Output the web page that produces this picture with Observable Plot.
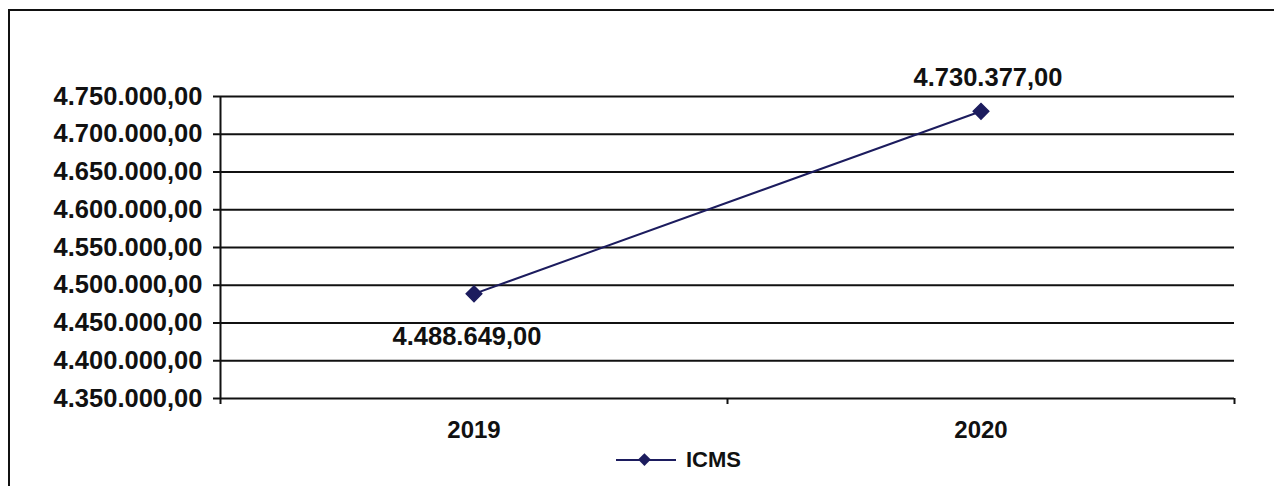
<!DOCTYPE html>
<html>
<head>
<meta charset="utf-8">
<script src="https://cdn.jsdelivr.net/npm/d3@7"></script>
<script src="https://cdn.jsdelivr.net/npm/@observablehq/plot@0.6"></script>
<style>
  html, body { margin: 0; padding: 0; background: #fff; }
  #wrap { position: relative; width: 1274px; height: 486px; overflow: hidden; font-family: "Liberation Sans", Arial, sans-serif; }
  #frame { position: absolute; left: 8px; top: 9px; width: 1400px; height: 600px; border-left: 2px solid #111; border-top: 2px solid #111; }
  #chart { position: absolute; left: 0; top: 0; }
  #legend { position: absolute; left: 616px; top: 447px; display: flex; align-items: center; font-weight: bold; font-size: 22px; color: #111; }
</style>
</head>
<body>
<div id="wrap">
  <div id="frame"></div>
  <div id="chart"></div>
  <div id="legend">
    <svg width="62" height="26" style="margin-right:8px"><line x1="0" y1="13" x2="60" y2="13" stroke="#1c1c5e" stroke-width="2"/><rect x="25" y="7" width="9" height="9" fill="#1c1c5e" transform="rotate(45 29.5 11.5) translate(0,1.5)"/></svg>
    <span>ICMS</span>
  </div>
</div>
<script>
const years = [2019, 2020];
const seriesName = "ICMS";
const icms = [4488649.00, 4730377.00];
const yTicks = [4350000, 4400000, 4450000, 4500000, 4550000, 4600000, 4650000, 4700000, 4750000];
const xTickLabels = ["2019", "2020"];

const locale = d3.formatLocale({decimal: ",", thousands: ".", grouping: [3], currency: ["", ""]});
const fmt = locale.format(",.2f");

const data = years.map((y, i) => ({year: y, value: icms[i], label: fmt(icms[i])}));
const navy = "#1c1c5e";
const bounds = [years[0] - 0.5, years[0] + 0.5, years[1] + 0.5];

const chart = Plot.plot({
  width: 1274,
  height: 486,
  marginLeft: 220,
  marginRight: 40,
  marginTop: 96,
  marginBottom: 88,
  style: {fontFamily: "'Liberation Sans', Arial, sans-serif", fontWeight: "bold", fontSize: "24px", color: "#111", background: "transparent"},
  x: {type: "linear", domain: [bounds[0], bounds[2]]},
  y: {domain: [yTicks[0], yTicks[yTicks.length - 1]]},
  marks: [
    Plot.ruleY(yTicks, {stroke: "#111", strokeWidth: 2}),
    Plot.ruleX([bounds[0]], {stroke: "#111", strokeWidth: 2, y1: yTicks[0], y2: yTicks[yTicks.length - 1]}),
    Plot.axisY({ticks: yTicks, tickFormat: fmt, tickSize: 7, tickPadding: 11, stroke: "#111", strokeWidth: 2, label: null, fontSize: 25.5, fill: "#111"}),
    Plot.axisX({ticks: bounds, tickSize: 6, tickFormat: () => "", stroke: "#111", strokeWidth: 2, label: null}),
    Plot.axisX({ticks: years, tickSize: 0, tickPadding: 22, tickFormat: (d, i) => xTickLabels[i], label: null, fontSize: 24, fill: "#111"}),
    Plot.line(data, {x: "year", y: "value", stroke: navy, strokeWidth: 2}),
    Plot.dot(data, {x: "year", y: "value", symbol: "diamond2", r: 7, fill: navy, stroke: navy}),
    Plot.text(data.filter(d => d.year === 2019), {x: "year", y: "value", text: "label", dx: -7, dy: 43, fontSize: 25.5, fill: "#111"}),
    Plot.text(data.filter(d => d.year === 2020), {x: "year", y: "value", text: "label", dx: 7, dy: -33, fontSize: 25.5, fill: "#111"})
  ]
});
document.getElementById("chart").appendChild(chart);
</script>
</body>
</html>
